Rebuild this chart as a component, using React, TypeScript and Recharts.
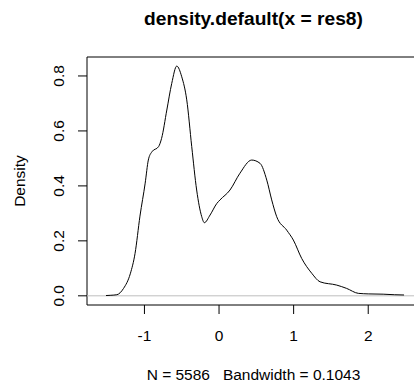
import { LineChart, Line, XAxis, YAxis, ReferenceLine, ReferenceArea } from 'recharts';

// density estimate
const xs = [-1.515, -1.45, -1.37, -1.28, -1.19, -1.126, -1.06, -0.99, -0.948, -0.9, -0.81, -0.77, -0.7, -0.634, -0.567, -0.5, -0.433, -0.366, -0.3, -0.232, -0.197, -0.12, -0.03, 0.013, 0.147, 0.28, 0.438, 0.55, 0.64, 0.706, 0.773, 0.907, 0.996, 1.108, 1.243, 1.354, 1.578, 1.71, 1.867, 2.0, 2.2, 2.35, 2.48];
const ys = [0.001, 0.002, 0.004, 0.027, 0.08, 0.154, 0.29, 0.41, 0.494, 0.524, 0.543, 0.573, 0.676, 0.773, 0.836, 0.797, 0.713, 0.543, 0.385, 0.288, 0.266, 0.294, 0.336, 0.349, 0.385, 0.446, 0.494, 0.482, 0.421, 0.349, 0.288, 0.239, 0.203, 0.136, 0.082, 0.051, 0.039, 0.027, 0.009, 0.007, 0.006, 0.004, 0.003];

const xTicks = [-1, 0, 1, 2];
const yTicks = [0, 0.2, 0.4, 0.6, 0.8];
const xDomain: [number, number] = [-1.77, 2.694];
const yDomain: [number, number] = [-0.0334, 0.869];

const title = 'density.default(x = res8)';
const subtitle = 'N = 5586   Bandwidth = 0.1043';
const yLabel = 'Density';

const data = xs.map((x, i) => ({ x, y: ys[i] }));

const font = '"Liberation Sans", Arial, sans-serif';

const XTick = (props: any) => {
  const { x, y, payload } = props;
  return (
    <text x={x} y={y + 27} textAnchor="middle" fontFamily={font} fontSize={15.5} fill="#000">
      {payload.value}
    </text>
  );
};

const YTick = (props: any) => {
  const { x, y, payload } = props;
  return (
    <text
      x={x - 14}
      y={y}
      textAnchor="middle"
      transform={`rotate(-90, ${x - 14}, ${y})`}
      fontFamily={font}
      fontSize={15.5}
      fill="#000"
    >
      {Number(payload.value).toFixed(1)}
    </text>
  );
};

export default function App() {
  return (
    <div style={{ position: 'absolute', left: 0, top: 0, width: 414, height: 383, overflow: 'hidden', background: '#fff' }}>
      <LineChart width={430} height={383} data={data} margin={{ top: 57, right: 10, left: 0, bottom: 0 }}>
        <XAxis
          dataKey="x"
          type="number"
          domain={xDomain}
          ticks={xTicks}
          allowDataOverflow
          height={78}
          axisLine={false}
          tickLine={{ stroke: '#000' }}
          tickSize={9}
          tickMargin={0}
          tick={<XTick />}
        />
        <YAxis
          type="number"
          domain={yDomain}
          ticks={yTicks}
          allowDataOverflow
          width={87}
          axisLine={false}
          tickLine={{ stroke: '#000' }}
          tickSize={9}
          tickMargin={0}
          tick={<YTick />}
        />
        <ReferenceLine y={0} stroke="#bebebe" strokeWidth={1} />
        <ReferenceArea x1={xDomain[0]} x2={xDomain[1]} y1={yDomain[0]} y2={yDomain[1]} fill="none" stroke="#000" strokeWidth={1} ifOverflow="visible" />
        <Line type="monotone" dataKey="y" stroke="#000" strokeWidth={1} dot={false} isAnimationActive={false} />
      </LineChart>
      <svg width={414} height={383} style={{ position: 'absolute', left: 0, top: 0, pointerEvents: 'none' }}>
        <text x={253.5} y={25} textAnchor="middle" fontFamily={font} fontWeight="bold" fontSize={19.2} fill="#000">
          {title}
        </text>
        <text x={253.5} y={379.5} textAnchor="middle" fontFamily={font} fontSize={15.5} fill="#000" style={{ whiteSpace: 'pre' }}>
          {subtitle}
        </text>
        <text x={24.6} y={181} textAnchor="middle" transform="rotate(-90, 24.6, 181)" fontFamily={font} fontSize={15.5} fill="#000">
          {yLabel}
        </text>
      </svg>
    </div>
  );
}
